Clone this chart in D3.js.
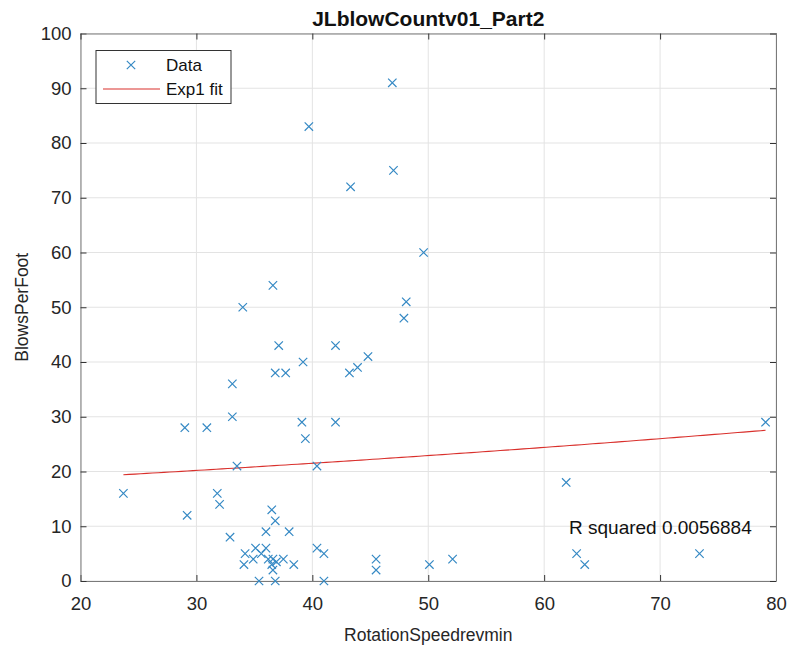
<!DOCTYPE html>
<html>
<head>
<meta charset="utf-8">
<script src="https://cdn.jsdelivr.net/npm/d3@7"></script>
<style>
  body { margin: 0; background: #fff; }
  svg { font-family: "Liberation Sans", Arial, sans-serif; }
</style>
</head>
<body>
<div id="frame"></div>
<script>
// rotation speed (rev/min)
var speed = [23.7, 29.0, 29.2, 30.9, 31.8, 32.0, 32.9, 33.1, 33.1, 33.5,
             34.0, 34.2, 34.1, 34.9, 35.1, 35.6, 35.4, 36.0, 36.0, 36.2,
             36.5, 36.6, 36.6, 36.5, 36.6, 36.8, 36.8, 36.8, 36.9, 37.1,
             37.5, 37.7, 38.0, 38.4, 39.1, 39.2, 39.4, 39.7, 40.4, 40.4,
             41.0, 41.0, 42.0, 42.0, 43.2, 43.3, 43.9, 44.8, 45.5, 45.5,
             46.9, 47.0, 47.9, 48.1, 49.6, 50.1, 52.1, 61.9, 62.8, 63.5,
             73.4, 79.1];
// blows per foot, same order
var blows = [16, 28, 12, 28, 16, 14, 8, 36, 30, 21,
             50, 5, 3, 4, 6, 5, 0, 6, 9, 4,
             13, 54, 4, 3, 2, 11, 38, 0, 3.5, 43,
             4, 38, 9, 3, 29, 40, 26, 83, 21, 6,
             5, 0, 43, 29, 38, 72, 39, 41, 4, 2,
             91, 75, 48, 51, 60, 3, 4, 18, 5, 3,
             5, 29];

// exp1 fit y = a*exp(b*x)
var fitA = 16.71, fitB = 0.00631;
var rSquaredLabel = "R squared 0.0056884";

var xTicks = [20, 30, 40, 50, 60, 70, 80];
var yTicks = [0, 10, 20, 30, 40, 50, 60, 70, 80, 90, 100];

var W = 790, H = 648;
var pLeft = 80.5, pRight = 776, pTop = 33.5, pBottom = 581;

var svg = d3.select('#frame').append('svg').attr('width', W).attr('height', H);

var x = d3.scaleLinear().domain([20, 80]).range([pLeft, pRight]);
var y = d3.scaleLinear().domain([0, 100]).range([pBottom, pTop]);

// grid
svg.append('g').selectAll('line').data(xTicks).join('line')
    .attr('x1', d => x(d)).attr('x2', d => x(d))
    .attr('y1', pTop).attr('y2', pBottom)
    .attr('stroke', '#e3e3e3').attr('stroke-width', 1);
svg.append('g').selectAll('line').data(yTicks).join('line')
    .attr('x1', pLeft).attr('x2', pRight)
    .attr('y1', d => y(d)).attr('y2', d => y(d))
    .attr('stroke', '#e3e3e3').attr('stroke-width', 1);

// axes (matlab style, ticks inward, box on)
var axColor = '#7a7a7a';
var tickLen = 6;
var tickFont = 18.5;
svg.append('g').attr('transform', 'translate(0,' + pBottom + ')')
    .call(d3.axisBottom(x).tickValues(xTicks).tickSizeInner(-tickLen).tickSizeOuter(0).tickPadding(16))
    .call(g => g.select('.domain').attr('stroke', axColor))
    .call(g => g.selectAll('.tick line').attr('stroke', '#333'))
    .call(g => g.selectAll('text').attr('font-size', tickFont).attr('fill', '#262626').attr('font-family', null));
svg.append('g').attr('transform', 'translate(' + pLeft + ',0)')
    .call(d3.axisLeft(y).tickValues(yTicks).tickSizeInner(-tickLen).tickSizeOuter(0).tickPadding(9))
    .call(g => g.select('.domain').attr('stroke', axColor))
    .call(g => g.selectAll('.tick line').attr('stroke', '#333'))
    .call(g => g.selectAll('text').attr('font-size', tickFont).attr('fill', '#262626').attr('font-family', null));
svg.append('g').attr('transform', 'translate(0,' + pTop + ')')
    .call(d3.axisTop(x).tickValues(xTicks).tickSizeInner(-tickLen).tickSizeOuter(0).tickFormat(''))
    .call(g => g.select('.domain').attr('stroke', axColor))
    .call(g => g.selectAll('.tick line').attr('stroke', '#333'));
svg.append('g').attr('transform', 'translate(' + pRight + ',0)')
    .call(d3.axisRight(y).tickValues(yTicks).tickSizeInner(-tickLen).tickSizeOuter(0).tickFormat(''))
    .call(g => g.select('.domain').attr('stroke', axColor))
    .call(g => g.selectAll('.tick line').attr('stroke', '#333'));

// fit line across data range
var fitX = d3.range(d3.min(speed), d3.max(speed) + 0.01, 0.5);
fitX.push(d3.max(speed));
var line = d3.line().x(d => x(d)).y(d => y(fitA * Math.exp(fitB * d)));
svg.append('path').datum(fitX)
    .attr('d', line)
    .attr('fill', 'none')
    .attr('stroke', '#d9302c')
    .attr('stroke-width', 1.1);

// data markers
var markerColor = '#3589c4';
var ms = 4.2;
function cross(sel) {
  sel.append('path')
     .attr('d', 'M' + (-ms) + ',' + (-ms) + 'L' + ms + ',' + ms + 'M' + (-ms) + ',' + ms + 'L' + ms + ',' + (-ms))
     .attr('stroke', markerColor).attr('stroke-width', 1.2).attr('fill', 'none');
}
svg.append('g').selectAll('g').data(speed).join('g')
    .attr('transform', (d, i) => 'translate(' + x(d) + ',' + y(blows[i]) + ')')
    .call(cross);

// r squared note
svg.append('text')
    .attr('x', 569).attr('y', y(10) + 8)
    .attr('font-size', 19).attr('fill', '#111')
    .text(rSquaredLabel);

// legend
var lg = svg.append('g');
lg.append('rect').attr('x', 96).attr('y', 50.5).attr('width', 135).attr('height', 53)
    .attr('fill', '#fff').attr('stroke', '#333').attr('stroke-width', 1);
lg.append('g').attr('transform', 'translate(131,65)').call(cross);
lg.append('line').attr('x1', 103).attr('x2', 160).attr('y1', 89).attr('y2', 89)
    .attr('stroke', '#d9302c').attr('stroke-width', 1.1);
lg.append('text').attr('x', 166).attr('y', 71).attr('font-size', 17).attr('fill', '#111').text('Data');
lg.append('text').attr('x', 166).attr('y', 95).attr('font-size', 17).attr('fill', '#111').text('Exp1 fit');

// titles
svg.append('text').attr('x', (pLeft + pRight) / 2).attr('y', 26)
    .attr('text-anchor', 'middle').attr('font-size', 21).attr('font-weight', 'bold')
    .attr('fill', '#111').text('JLblowCountv01_Part2');
svg.append('text').attr('x', (pLeft + pRight) / 2).attr('y', 641)
    .attr('text-anchor', 'middle').attr('font-size', 17.5).attr('fill', '#262626')
    .text('RotationSpeedrevmin');
svg.append('text')
    .attr('transform', 'translate(28,' + ((pTop + pBottom) / 2) + ') rotate(-90)')
    .attr('text-anchor', 'middle').attr('font-size', 17.5).attr('fill', '#262626')
    .text('BlowsPerFoot');
</script>
</body>
</html>
